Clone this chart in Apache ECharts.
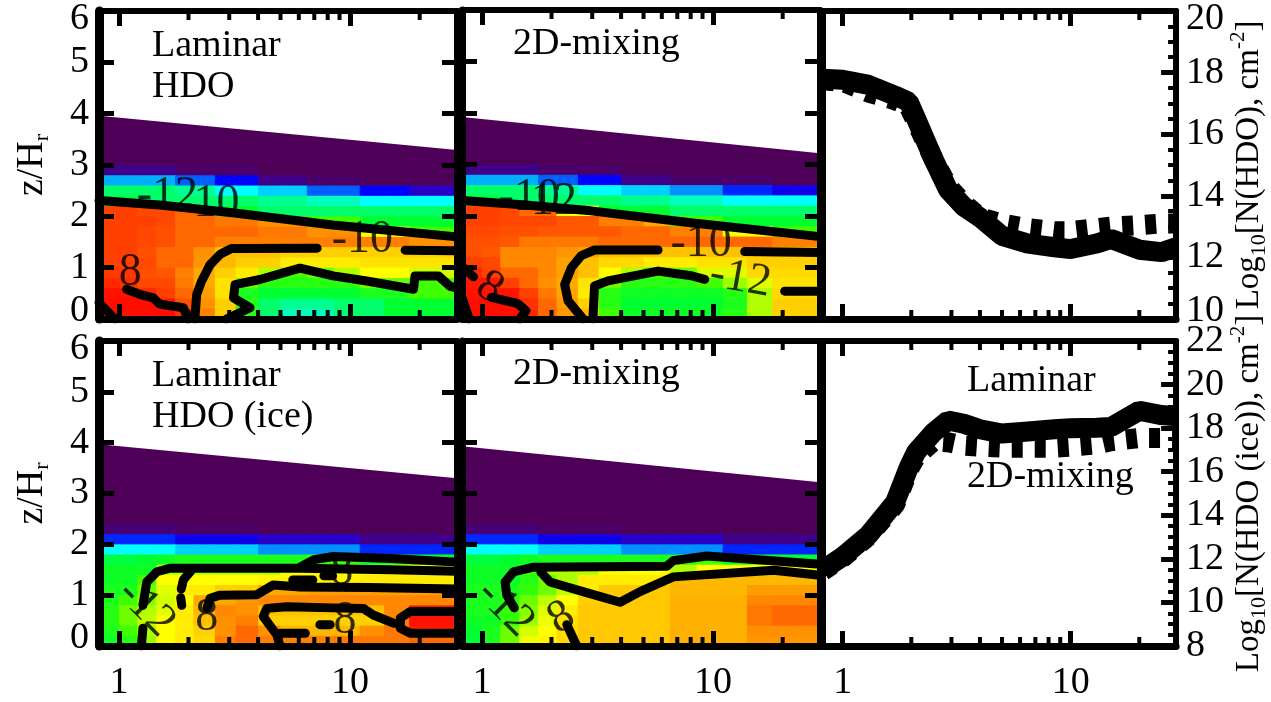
<!DOCTYPE html>
<html><head><meta charset="utf-8">
<script src="https://cdn.jsdelivr.net/npm/echarts@6/dist/echarts.min.js"></script>
<style>html,body{margin:0;padding:0;background:#fff}#c{width:1271px;height:702px}</style>
</head><body><div id="c"></div>
<script>
// ================= DATA =================
const X_MIN = 0.82, X_MAX = 29;
const X_MINOR_TICKS = [2, 3, 4, 5, 6, 7, 8, 9, 20];
const Z_RANGE = [0, 6];
const N_RANGE_HDO = [10, 20];
const N_RANGE_ICE = [8, 22];

// cell edges of the abundance maps (radius, z/H_r)
const R_EDGES = [0.82, 1, 1.2, 1.45, 1.75, 2.1, 2.6, 3.2, 4, 5, 6.5, 8.5, 11, 14, 18, 23, 29];
const Z_EDGES = [0, 0.2, 0.4, 0.6, 0.8, 1, 1.2, 1.4, 1.6, 1.8, 2, 2.2, 2.4, 2.6, 2.8, 3, 3.2, 3.4, 3.6, 3.8, 4];

// log10 abundance, rows from z=4 (top) down to z=0, columns follow R_EDGES
const HDO_LAMINAR = [
 [-17,-17,-17,-17,-17,-17,-17,-17,-17,-17,-17,-17,-17,-17,-17,-17],
 [-17,-17,-17,-17,-17,-17,-17,-17,-17,-17,-17,-17,-17,-17,-17,-17],
 [-17,-17,-17,-17,-17,-17,-17,-17,-17,-17,-17,-17,-17,-17,-17,-17],
 [-17,-17,-17,-17,-17,-17,-17,-17,-17,-17,-17,-17,-17,-17,-17,-17],
 [-17,-17,-17,-17,-17,-17,-17,-17,-17,-17,-17,-17,-17,-17,-17,-17],
 [-16,-16,-16,-16,-16.5,-16.5,-16.5,-16.5,-17,-17,-17,-17,-17,-17,-17,-17],
 [-14,-14,-14,-14,-14.5,-14.5,-15,-15,-16,-16,-16.5,-16.5,-17,-17,-17,-17],
 [-12.8,-12.8,-12.8,-12.8,-13,-13,-13.5,-13.5,-13.8,-13.8,-14.5,-14.5,-15,-15,-15.5,-15.5],
 [-12.5,-12.5,-12.8,-12.8,-12.8,-12.8,-12.8,-12.8,-13,-13,-13.2,-13.2,-13.5,-13.5,-13.5,-13.5],
 [-8.5,-8.5,-8.6,-8.6,-9,-9,-12.5,-12.5,-12.8,-12.8,-12.8,-12.8,-12.8,-12.8,-12.8,-12.8],
 [-8.5,-8.5,-8.5,-8.6,-9,-9,-9.2,-9.2,-9.5,-9.5,-12,-12,-12.5,-12.5,-12.5,-12.5],
 [-8.5,-8.5,-8.6,-8.7,-9,-9,-9,-9,-9.2,-9.2,-9.5,-9.5,-11,-11,-12,-12],
 [-8.5,-8.5,-8.6,-8.7,-9,-9,-9.3,-9.3,-9.3,-9.3,-9.3,-9.3,-9.3,-9.3,-9.5,-9.5],
 [-8.5,-8.5,-8.7,-9,-9,-9.5,-10.3,-10.3,-10.3,-10.5,-10.5,-10.5,-10.5,-10.5,-10.5,-10.5],
 [-8.5,-8.5,-8.6,-9,-9,-9.6,-10.2,-10.5,-10.5,-10.8,-10.8,-10.8,-10.7,-10.7,-10.7,-10.7],
 [-8.4,-8.4,-8.7,-8.8,-9.3,-10,-10.5,-10.8,-11.5,-12,-11.8,-11.5,-11,-11,-11.3,-11.3],
 [-8.2,-8.3,-8.6,-8.6,-9.2,-10,-10.7,-11.8,-12.2,-12.2,-12.2,-12.2,-11.8,-11.8,-12,-12],
 [-7.9,-7.9,-8.2,-8.5,-9,-9.8,-10.7,-12.3,-12.5,-12.5,-12.5,-12.5,-12.3,-12.3,-12,-12],
 [-7.8,-7.8,-7.8,-8,-8.7,-9.5,-10.5,-12.2,-12.8,-13,-13,-12.8,-12.8,-12.5,-12.5,-12.5],
 [-7.8,-7.8,-7.8,-7.8,-8.3,-9.3,-10.5,-12.2,-12.8,-13.2,-13.2,-12.8,-12.8,-12.5,-12.5,-12.5]
];
const HDO_MIXING = [
 [-17,-17,-17,-17,-17,-17,-17,-17,-17,-17,-17,-17,-17,-17,-17,-17],
 [-17,-17,-17,-17,-17,-17,-17,-17,-17,-17,-17,-17,-17,-17,-17,-17],
 [-17,-17,-17,-17,-17,-17,-17,-17,-17,-17,-17,-17,-17,-17,-17,-17],
 [-17,-17,-17,-17,-17,-17,-17,-17,-17,-17,-17,-17,-17,-17,-17,-17],
 [-17,-17,-17,-17,-17,-17,-17,-17,-17,-17,-17,-17,-17,-17,-17,-17],
 [-16,-16,-16,-16,-16.5,-16.5,-16.5,-16.5,-17,-17,-17,-17,-17,-17,-17,-17],
 [-14,-14,-14,-14,-14.5,-14.5,-15,-15,-16,-16,-16.5,-16.5,-16.5,-16.5,-17,-17],
 [-12.8,-12.8,-12.8,-12.8,-13,-13,-13.5,-13.5,-13.8,-13.8,-14.2,-14.2,-14.8,-14.8,-15.2,-15.2],
 [-12.5,-12.5,-12.8,-12.8,-12.8,-12.8,-12.8,-12.8,-13,-13,-13.2,-13.2,-13.5,-13.5,-13.5,-13.5],
 [-8.5,-8.5,-8.6,-9,-9,-11,-11,-12.5,-12.5,-12.5,-12.8,-12.8,-12.8,-12.8,-12.8,-12.8],
 [-8.5,-8.5,-8.6,-8.6,-8.6,-8.8,-8.8,-9.3,-9.3,-10,-12,-12,-12.5,-12.5,-12.5,-12.5],
 [-8.6,-8.6,-8.7,-8.7,-8.8,-8.8,-8.8,-8.8,-9,-9,-9.3,-9.3,-11,-11,-12,-12],
 [-8.7,-8.7,-8.8,-9.2,-9.2,-9.2,-9.2,-9,-9,-9,-9,-9,-9,-9,-9.3,-9.3],
 [-8.7,-8.8,-9.4,-9.4,-9.4,-9.6,-9.8,-10.3,-10.3,-10.3,-10.3,-10.3,-10.3,-10.3,-10.3,-10.3],
 [-8.5,-8.6,-9.4,-9.4,-9.4,-9.9,-10.3,-10.6,-10.6,-10.8,-10.8,-10.7,-10.7,-10.5,-10.5,-10.5],
 [-8.2,-8.5,-9,-9,-9.4,-9.8,-10.3,-11,-11.5,-12,-11.8,-11.2,-11.2,-10.6,-10.6,-10.6],
 [-8,-8,-8.5,-9,-9.5,-10,-10.7,-11.8,-12.2,-12.2,-12.2,-12,-11.6,-11.2,-10.7,-10.7],
 [-7.9,-7.9,-7.9,-8.5,-9.2,-9.9,-10.8,-12.2,-12.4,-12.4,-12.4,-12.4,-12.2,-11.5,-10.6,-10.6],
 [-7.8,-7.8,-7.8,-8.3,-9,-9.7,-10.5,-12.2,-12.5,-12.5,-12.5,-12.5,-12.3,-11.5,-10.5,-10.5],
 [-7.8,-7.8,-7.8,-8.2,-9,-9.6,-10.2,-12,-12.4,-12.4,-12.4,-12.4,-12.2,-11.5,-10.5,-10.5]
];
const ICE_LAMINAR = [
 [-17,-17,-17,-17,-17,-17,-17,-17,-17,-17,-17,-17,-17,-17,-17,-17],
 [-17,-17,-17,-17,-17,-17,-17,-17,-17,-17,-17,-17,-17,-17,-17,-17],
 [-17,-17,-17,-17,-17,-17,-17,-17,-17,-17,-17,-17,-17,-17,-17,-17],
 [-17,-17,-17,-17,-17,-17,-17,-17,-17,-17,-17,-17,-17,-17,-17,-17],
 [-17,-17,-17,-17,-17,-17,-17,-17,-17,-17,-17,-17,-17,-17,-17,-17],
 [-17,-17,-17,-17,-17,-17,-17,-17,-17,-17,-17,-17,-17,-17,-17,-17],
 [-17,-17,-17,-17,-17,-17,-17,-17,-17,-17,-17,-17,-17,-17,-17,-17],
 [-17,-17,-17,-17,-17,-17,-17,-17,-17,-17,-17,-17,-17,-17,-17,-17],
 [-16.3,-16.3,-16.3,-16.3,-16.6,-16.6,-16.6,-16.6,-17,-17,-17,-17,-17,-17,-17,-17],
 [-14.8,-14.8,-14.8,-14.8,-15.2,-15.2,-15.2,-15.2,-15.5,-15.5,-15.5,-15.5,-16,-16,-16,-16],
 [-13.5,-13.5,-13.5,-13.5,-13.8,-13.8,-13.8,-13.8,-14.2,-14.2,-14.2,-14.2,-14.8,-14.8,-14.8,-14.8],
 [-12.6,-12.6,-12.5,-12.4,-12.3,-12.3,-12.3,-12.3,-12.3,-12.3,-12,-12,-12.5,-12.5,-12.5,-12.5],
 [-12.4,-12.4,-12.4,-11.5,-11.5,-11.5,-11.5,-11.5,-11.5,-11,-11,-11,-11,-11,-11,-11],
 [-12.4,-12.4,-12,-11,-11,-11,-11,-11,-10.9,-10.9,-10.9,-10.9,-10.8,-10.8,-10.8,-10.8],
 [-12.3,-12.3,-11.8,-11.2,-10.8,-10.8,-10.5,-10.5,-10,-10,-9.8,-9.8,-9.8,-9.8,-9.8,-9.8],
 [-12.3,-12,-11.7,-11.3,-11,-10,-10,-9.6,-9.4,-9.4,-9.4,-9.4,-9.4,-9.4,-9.4,-9.4],
 [-12.2,-11.8,-11.5,-11.2,-10.8,-10.2,-9.4,-9.5,-10.3,-10.3,-10.3,-10.3,-10.3,-9.4,-8,-8],
 [-12.2,-11.8,-11.4,-11,-10.8,-10.3,-9.5,-9.3,-10.5,-10.5,-10.5,-10.5,-10.5,-9.3,-7.9,-7.9],
 [-12.3,-12,-11.5,-11,-10.8,-10.5,-9.5,-9,-9.5,-10.2,-10.2,-10.2,-9.5,-9.2,-8,-8],
 [-12.4,-12.2,-11.6,-11,-10.8,-10.6,-9.3,-9,-9.3,-9.3,-9.3,-9.2,-9.2,-9.2,-9,-9]
];
const ICE_MIXING = [
 [-17,-17,-17,-17,-17,-17,-17,-17,-17,-17,-17,-17,-17,-17,-17,-17],
 [-17,-17,-17,-17,-17,-17,-17,-17,-17,-17,-17,-17,-17,-17,-17,-17],
 [-17,-17,-17,-17,-17,-17,-17,-17,-17,-17,-17,-17,-17,-17,-17,-17],
 [-17,-17,-17,-17,-17,-17,-17,-17,-17,-17,-17,-17,-17,-17,-17,-17],
 [-17,-17,-17,-17,-17,-17,-17,-17,-17,-17,-17,-17,-17,-17,-17,-17],
 [-17,-17,-17,-17,-17,-17,-17,-17,-17,-17,-17,-17,-17,-17,-17,-17],
 [-17,-17,-17,-17,-17,-17,-17,-17,-17,-17,-17,-17,-17,-17,-17,-17],
 [-17,-17,-17,-17,-17,-17,-17,-17,-17,-17,-17,-17,-17,-17,-17,-17],
 [-16.3,-16.3,-16.3,-16.3,-16.6,-16.6,-16.6,-16.6,-17,-17,-17,-17,-17,-17,-17,-17],
 [-14.8,-14.8,-14.8,-14.8,-15.2,-15.2,-15.2,-15.2,-15.5,-15.5,-15.5,-15.5,-16,-16,-16,-16],
 [-13.5,-13.5,-13.5,-13.5,-13.8,-13.8,-13.8,-13.8,-14.2,-14.2,-14.2,-14.2,-14.8,-14.8,-14.8,-14.8],
 [-12.6,-12.6,-12.5,-12.4,-12.3,-12.3,-12.3,-12.3,-12.3,-12.3,-12.3,-12,-12.5,-12.5,-12.5,-12.5],
 [-12.4,-12.4,-12.4,-12,-11.5,-11.5,-11.5,-11,-11,-11,-11.5,-11,-11,-11,-11,-11],
 [-12.4,-12.4,-12.4,-12.2,-11.8,-11.5,-10.8,-10.8,-10.8,-10.8,-10.2,-10.2,-10.2,-10.2,-10.2,-10.2],
 [-12.3,-12.3,-12.3,-12.1,-11.8,-11.4,-10.8,-10.4,-10.4,-10.4,-10.2,-10.2,-10.2,-9.8,-9.8,-9.8],
 [-12.3,-12.3,-12.2,-11.8,-11.4,-11,-10.5,-10.4,-10.4,-10.4,-10.1,-10.1,-10.1,-9.4,-9.4,-9.4],
 [-12.3,-12.3,-12.1,-11.7,-11.2,-10.8,-10.4,-10.4,-10.4,-10.4,-10.1,-10.1,-10.1,-9.2,-9,-9],
 [-12.4,-12.4,-12.1,-11.6,-11.1,-10.7,-10.4,-10.4,-10.4,-10.4,-10.1,-10.1,-10.1,-9.2,-9,-9],
 [-12.5,-12.3,-11.8,-11.3,-11,-10.6,-10.4,-10.4,-10.4,-10.4,-10.1,-10.1,-10.1,-9.5,-9.5,-9.5],
 [-12.5,-12.3,-11.8,-11.1,-10.9,-10.6,-10.4,-10.4,-10.4,-10.4,-10.1,-10.1,-10.1,-9.6,-9.6,-9.6]
];

// upper boundary of the computed disk domain [r, z]
const TOP_EDGE_TL = [[0.82, 3.96], [29, 3.29]];
const TOP_EDGE_TM = [[0.82, 3.92], [29, 3.22]];
const TOP_EDGE_BL = [[0.82, 3.97], [29, 3.3]];
const TOP_EDGE_BM = [[0.82, 3.93], [29, 3.22]];

// contour lines [r, z]
const CONTOURS_TL = [
 [[0.82,2.31],[1.5,2.22],[3.1,2.07],[8.4,1.83],[29,1.6]],
 [[2.13,0],[2.17,0.48],[2.28,0.74],[2.48,1.06],[2.74,1.26],[3.07,1.375],[7.2,1.38]],
 [[17.3,1.34],[29,1.33]],
 [[2.92,0],[3.69,0.22],[3.13,0.41],[3.18,0.67],[4.07,0.77],[6.07,0.99],[8.45,0.84],[11.8,0.74],[18.8,0.58],[19.1,0.84],[24.1,0.84],[27,0.64],[29,0.6]],
 [[1.08,0.58],[1.23,0.48],[1.41,0.41],[1.5,0.29],[1.9,0.22],[1.99,0]],
 [[0.82,0.32],[0.96,0]]
];
const CONTOURS_TM = [
 [[0.82,2.3],[1.5,2.22],[2.96,2.1],[8,1.87],[29,1.6]],
 [[2.74,0],[2.36,0.35],[2.28,0.67],[2.44,1],[2.69,1.23],[3.07,1.34],[5.78,1.34]],
 [[13.7,1.31],[29,1.29]],
 [[3.02,0],[3.07,0.64],[3.51,0.74],[5.78,0.93],[8.05,0.84],[9.2,0.77]],
 [[20.4,0.54],[29,0.54]],
 [[0.82,1.02],[0.92,0.82]],
 [[1.1,0.42],[1.43,0.3],[1.55,0.16],[1.46,0]],
 [[0.82,0.42],[0.88,0]]
];
const CONTOURS_BL = [
 [[1.27,0.8],[1.32,1.26],[1.46,1.46],[1.66,1.53],[6.07,1.53],[15,1.5],[29,1.47]],
 [[6.07,1.55],[7,1.7],[8.45,1.76],[15,1.72],[29,1.65]],
 [[2.4,0.74],[2.48,0.94],[2.74,1.0],[3.95,1.01],[4.65,1.2],[6.07,1.16],[12,1.15],[29,1.12]],
 [[4.97,0],[4.82,0.22],[4.21,0.58],[4.36,0.74],[5.32,0.77],[8.45,0.75],[11.4,0.74],[12.6,0.61],[15.4,0.45],[16.2,0.43]],
 [[29,0.68],[18.2,0.68],[16.5,0.55],[16.5,0.35],[18.2,0.25],[29,0.25]],
 [[2.05,1.48],[1.9,1.3],[1.86,1.12]],
 [[1.85,0.95],[1.87,0.8]],
 [[1.27,0.35],[1.25,0]],
 [[5.0,0.25],[6.4,0.25]],
 [[7.4,0.42],[8.2,0.42]],
 [[5.65,1.3],[6.9,1.3]],
 [[7.7,1.38],[8.4,1.38]]
];
const CONTOURS_BM = [
 [[1.28,1.0],[1.26,1.26],[1.37,1.46],[1.67,1.55],[6.3,1.57],[6.73,1.68],[9.39,1.77],[29,1.61]],
 [[1.8,1.45],[1.97,1.26],[2.93,1.03],[3.96,0.86],[4.83,1.07],[6.73,1.36],[18.3,1.49],[29,1.39]],
 [[2.33,0.42],[2.57,0]],
 [[1.3,0.95],[1.38,0.75]]
];
// contour labels [r, z, text, rotation]
const LABELS_TL = [[1.62,2.4,'-12',0],[2.45,2.25,'-10',0],[11.3,1.55,'-10',0],[1.12,0.9,'8',0]];
const LABELS_TM = [[1.6,2.36,'-10',0],[1.9,2.27,'-12',0],[8.87,1.46,'-10',0],[13.1,0.78,'-12',-10],[1.08,0.6,'8',-30]];
const LABELS_BL = [[2.4,0.55,'8',0],[9.2,1.46,'8',0],[9.5,0.5,'8',0],[1.31,0.74,'-12',-45]];
const LABELS_BM = [[1.26,0.74,'-12',-45],[2.21,0.55,'8',30]];

// column densities (right panels)
const R_COL = [0.82, 1.0, 1.3, 1.7, 1.95, 2.1, 2.5, 2.9, 3.4, 4.0, 5.0, 6.5, 8.5, 10, 13, 15, 20, 25, 29];
const N_HDO_LAMINAR = [17.8, 17.77, 17.6, 17.25, 17.05, 16.5, 15.2, 14.2, 13.65, 13.3, 12.7, 12.45, 12.33, 12.27, 12.45, 12.6, 12.25, 12.17, 12.33];
const N_HDO_MIXING  = [17.75, 17.7, 17.35, 17.1, 16.9, 16.4, 15.2, 14.3, 13.75, 13.3, 13.1, 12.95, 12.85, 12.85, 12.95, 13.0, 13.05, 13.1, 13.1];
const N_ICE_LAMINAR = [11.5, 12.1, 13.1, 14.6, 16.2, 16.9, 17.8, 18.35, 18.2, 17.95, 17.75, 17.85, 17.95, 18.0, 18.02, 18.05, 18.8, 18.6, 18.55];
const N_ICE_MIXING  = [11.45, 12.05, 13.05, 14.5, 16.1, 16.7, 17.4, 17.35, 17.2, 17.15, 17.1, 17.1, 17.1, 17.15, 17.25, 17.4, 17.55, 17.55, 17.55];

// ================= STYLE =================
const FONT = 'Liberation Serif';
const COLOR_STOPS = ['#4e0058','#4a0068','#40008a','#2800c8','#0000ff','#0060ff','#00b0ff','#00ffff','#00ff90','#00ff30','#40ff00','#b0ff00','#ffff00','#ffd000','#ffa800','#ff9000','#ff6800','#ff4000','#ff1800','#ff0000'];
const GRIDS = [
  {left: 99,  top: 10,  width: 358, height: 309},
  {left: 462, top: 10,  width: 358, height: 309},
  {left: 823, top: 10,  width: 357, height: 309},
  {left: 99,  top: 341, width: 358, height: 307},
  {left: 462, top: 341, width: 358, height: 307},
  {left: 823, top: 341, width: 357, height: 307}
];
const TICK_FONT = 38;

function cells(rows) {
  const out = [];
  const nz = Z_EDGES.length - 1;
  rows.forEach((row, k) => {
    const j = nz - 1 - k;
    row.forEach((v, i) => out.push([R_EDGES[i], R_EDGES[i + 1], Z_EDGES[j], Z_EDGES[j + 1], v]));
  });
  return out;
}

const xAxes = [], yAxes = [], series = [], heatIdx = [];

function xAx(g, pos, labels, lw) {
  return {
    type: 'log', logBase: 10, gridIndex: g, position: pos, min: X_MIN, max: X_MAX, z: 10,
    axisLine: {show: true, onZero: false, lineStyle: {color: '#000', width: lw}},
    axisTick: {show: true, inside: true, length: 15, lineStyle: {color: '#000', width: 5}},
    axisLabel: {show: labels, margin: 18, fontFamily: FONT, fontSize: TICK_FONT, color: '#000', showMinLabel: false, showMaxLabel: false},
    splitLine: {show: false}, minorTick: {show: false}
  };
}
function yAx(g, pos, range, interval, opts) {
  const o = Object.assign({labels: false, ticks: true, minor: false, name: '', lw: 6, nameGap: 46, edgeAlign: true}, opts);
  const label = {show: o.labels, margin: 10, fontFamily: FONT, fontSize: TICK_FONT, lineHeight: 16, color: '#000',
      showMinLabel: true, showMaxLabel: true, hideOverlap: false};
  if (o.edgeAlign) { label.verticalAlignMinLabel = 'bottom'; label.verticalAlignMaxLabel = 'top'; }
  return {
    type: 'value', gridIndex: g, position: pos, min: range[0], max: range[1], interval: interval, z: 10,
    axisLine: {show: true, onZero: false, lineStyle: {color: '#000', width: o.lw}},
    axisTick: {show: o.ticks, inside: true, length: 15, lineStyle: {color: '#000', width: 5}},
    minorTick: {show: o.minor, splitNumber: 4, length: 8, lineStyle: {color: '#000', width: 4}},
    axisLabel: label,
    splitLine: {show: false},
    name: o.name, nameLocation: 'middle', nameGap: o.nameGap, nameRotate: 90,
    nameTextStyle: {fontFamily: FONT, fontSize: 36, color: '#000', lineHeight: 42,
      rich: {
        a: {fontFamily: FONT, fontSize: o.nameSize || 38, color: '#000', lineHeight: 42},
        s: {fontFamily: FONT, fontSize: 22, color: '#000', verticalAlign: 'bottom'},
        p: {fontFamily: FONT, fontSize: 21, color: '#000', verticalAlign: 'top'}
      }}
  };
}
function minorTicks(g, yr) {
  return {
    type: 'custom', xAxisIndex: 2 * g, yAxisIndex: 2 * g, z: 11, silent: true, clip: false,
    data: X_MINOR_TICKS.map(v => [v, yr[0]]),
    encode: {x: 0, y: 1},
    renderItem: (p, api) => {
      const v = api.value(0);
      const b = api.coord([v, yr[0]]), t = api.coord([v, yr[1]]);
      return {type: 'group', children: [
        {type: 'line', shape: {x1: b[0], y1: b[1], x2: b[0], y2: b[1] - 9}, style: {stroke: '#000', lineWidth: 4}},
        {type: 'line', shape: {x1: t[0], y1: t[1], x2: t[0], y2: t[1] + 9}, style: {stroke: '#000', lineWidth: 4}}
      ]};
    }
  };
}

function mapPanel(g, rows, topEdge, contours, labels, showY, showX, lwLeft) {
  xAxes.push(xAx(g, 'bottom', showX, 7), xAx(g, 'top', false, 6));
  yAxes.push(yAx(g, 'left', Z_RANGE, 1, {labels: showY, lw: lwLeft,
      name: showY ? '{a|z/H}{s|r}' : '', nameGap: 46}),
    yAx(g, 'right', Z_RANGE, 1, {}));
  heatIdx.push(series.length);
  series.push({
    type: 'custom', xAxisIndex: 2 * g, yAxisIndex: 2 * g, z: 1, silent: true, clip: true,
    data: cells(rows), encode: {x: [0, 1], y: [2, 3]},
    renderItem: (p, api) => {
      const a = api.coord([api.value(0), api.value(2)]);
      const b = api.coord([api.value(1), api.value(3)]);
      return {type: 'rect', shape: {x: a[0], y: b[1], width: b[0] - a[0] + 0.8, height: a[1] - b[1] + 0.8},
        style: {fill: api.visual('color')}};
    }
  });
  series.push({
    type: 'line', xAxisIndex: 2 * g, yAxisIndex: 2 * g, z: 2, silent: true, data: topEdge,
    showSymbol: false, symbol: 'none', lineStyle: {width: 0},
    areaStyle: {color: '#ffffff', opacity: 1, origin: 'end'}
  });
  contours.forEach(c => series.push({
    type: 'line', xAxisIndex: 2 * g, yAxisIndex: 2 * g, z: 3, silent: true, data: c,
    showSymbol: false, symbol: 'none', lineStyle: {color: '#000', width: 9, cap: 'round', join: 'round'}
  }));
  series.push({
    type: 'scatter', xAxisIndex: 2 * g, yAxisIndex: 2 * g, z: 4, silent: true, symbolSize: 1,
    itemStyle: {color: 'rgba(0,0,0,0)'},
    data: labels.map(l => ({value: [l[0], l[1]], name: l[2], label: {rotate: l[3]}})),
    label: {show: true, position: 'inside', formatter: '{b}', fontFamily: FONT, fontSize: 46, color: '#000'}
  });
  series.push(minorTicks(g, Z_RANGE));
}

function colPanel(g, range, lam, mix, title, showX, edgeAlign) {
  xAxes.push(xAx(g, 'bottom', showX, 7), xAx(g, 'top', false, 6));
  yAxes.push(yAx(g, 'right', range, 2, {labels: true, minor: true, name: title, nameGap: 44, nameSize: 33, edgeAlign: edgeAlign}),
    yAx(g, 'left', range, 2, {ticks: false}));
  series.push({
    type: 'line', xAxisIndex: 2 * g, yAxisIndex: 2 * g, z: 3, silent: true,
    data: R_COL.map((r, i) => [r, mix[i]]), showSymbol: false, symbol: 'none',
    lineStyle: {color: '#000', width: 20, type: [11, 12]}
  });
  series.push({
    type: 'line', xAxisIndex: 2 * g, yAxisIndex: 2 * g, z: 3, silent: true,
    data: R_COL.map((r, i) => [r, lam[i]]), showSymbol: false, symbol: 'none',
    lineStyle: {color: '#000', width: 20}
  });
  series.push(minorTicks(g, range));
}

mapPanel(0, HDO_LAMINAR, TOP_EDGE_TL, CONTOURS_TL, LABELS_TL, true, false, 9);
mapPanel(1, HDO_MIXING, TOP_EDGE_TM, CONTOURS_TM, LABELS_TM, false, false, 7);
colPanel(2, N_RANGE_HDO, N_HDO_LAMINAR, N_HDO_MIXING, '{a|Log}{s|10}{a|[N(HDO), cm}{p|-2}{a|]}', false, true);
mapPanel(3, ICE_LAMINAR, TOP_EDGE_BL, CONTOURS_BL, LABELS_BL, true, true, 9);
mapPanel(4, ICE_MIXING, TOP_EDGE_BM, CONTOURS_BM, LABELS_BM, false, true, 7);
colPanel(5, N_RANGE_ICE, N_ICE_LAMINAR, N_ICE_MIXING, '{a|Log}{s|10}{a|[N(HDO (ice)), cm}{p|-2}{a|]}', true, false);

function txt(x, y, s) {
  return {type: 'text', x: x, y: y, z: 30, silent: true,
    style: {text: s, fontFamily: FONT, fontSize: 38, fill: '#000', align: 'left', verticalAlign: 'middle',
      textAlign: 'left', textVerticalAlign: 'middle'}};
}

const chart = echarts.init(document.getElementById('c'), null, {renderer: 'canvas'});
chart.setOption({
  animation: false,
  backgroundColor: '#ffffff',
  grid: GRIDS.map(g => Object.assign({containLabel: false}, g)),
  xAxis: xAxes,
  yAxis: yAxes,
  visualMap: [{type: 'continuous', show: false, min: -17, max: -7.5, dimension: 4, seriesIndex: heatIdx,
    inRange: {color: COLOR_STOPS}}],
  graphic: [
    txt(152, 45.6, 'Laminar'), txt(152, 86.6, 'HDO'),
    txt(513, 43.6, '2D-mixing'),
    txt(152, 375.6, 'Laminar'), txt(152, 416.6, 'HDO (ice)'),
    txt(513, 373.6, '2D-mixing'),
    txt(967, 380.6, 'Laminar'), txt(967, 476.6, '2D-mixing')
  ],
  series: series
});
</script>
</body></html>
